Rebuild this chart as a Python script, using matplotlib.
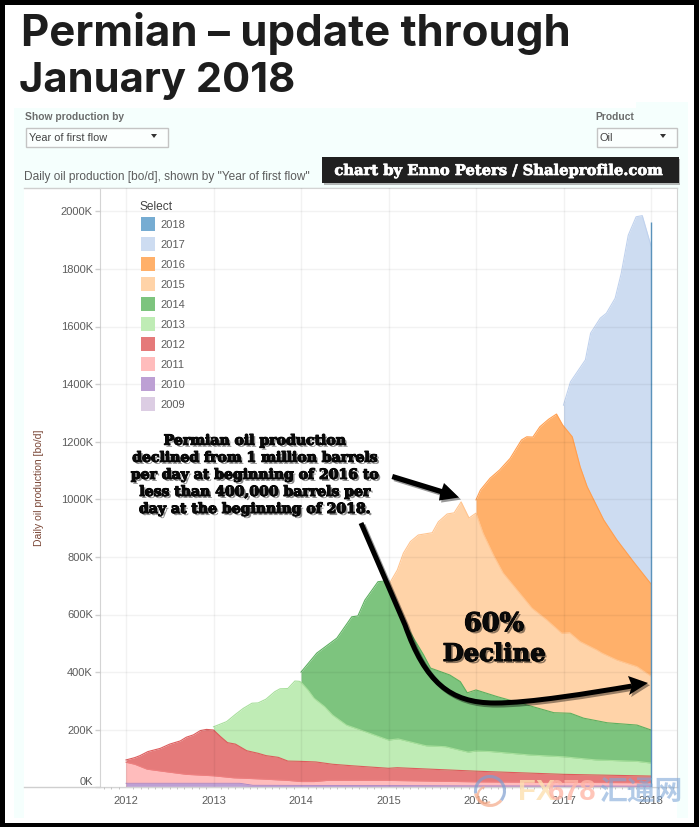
#Produccion de petroleo en el Permian por año de primer flujo
#Objetivo: Graficar las capas apiladas de cada cosecha de pozos sobre la pagina original

#Importamos las librerias necesarias 
import numpy as np
import matplotlib.pylab as plt
from matplotlib.path import Path
from matplotlib.patches import Rectangle, PathPatch, Polygon, Arc
import matplotlib.patheffects as pe

# Años de la leyenda y sus colores
vintages = ['2018', '2017', '2016', '2015', '2014', '2013', '2012', '2011', '2010', '2009']
coloresRelleno = ['#76acd2', '#cddcf1', '#ffb06a', '#ffd3a8', '#7dc47e', '#bfecb5', '#e57a7a', '#ffbcbc', '#bda0d4', '#dccde3']
coloresLinea = ['#5f9ac6', '#c0d2ee', '#ff9f50', '#ffc590', '#5db060', '#a8e09c', '#dd5c5c', '#ee8080', '#a585c8', '#cdb8d8']

# Techo acumulado de cada capa [miles de bo/d]
x2009 = [2012.0, 2013.3, 2013.5, 2018.0]
y2009 = [4, 4, 2, 1]

x2010 = [2012.0, 2013.3, 2013.45, 2015.0, 2016.0, 2018.0]
y2010 = [14, 14, 7, 6, 5, 4]

x2011 = [2012.0, 2012.1, 2012.24, 2012.46, 2012.69, 2013.0, 2013.23, 2013.54, 2013.85, 2014.0, 2014.15, 2014.3, 2015.0, 2016.0, 2017.0, 2018.0]
y2011 = [87, 80, 63, 54, 45, 40, 33, 29, 24, 20, 20, 24, 24, 19, 17, 16]

x2012 = [2012.0, 2012.1, 2012.16, 2012.25, 2012.39, 2012.5, 2012.62, 2012.69, 2012.77, 2012.85, 2012.92, 2013.0, 2013.08, 2013.16, 2013.25, 2013.38, 2013.51, 2013.6, 2013.74, 2013.85, 2014.0, 2014.17, 2014.36, 2014.57, 2015.0, 2015.1, 2016.0, 2017.0, 2018.0]
y2012 = [95, 103, 110, 124, 135, 150, 161, 174, 182, 197, 201, 199, 176, 155, 150, 127, 118, 110, 104, 91, 90, 88, 80, 75, 66, 68, 56, 45, 39]

x2013 = [2013.0, 2013.15, 2013.25, 2013.34, 2013.44, 2013.51, 2013.6, 2013.7, 2013.76, 2013.85, 2013.93, 2013.98, 2014.0, 2014.08, 2014.15, 2014.27, 2014.36, 2014.52, 2014.68, 2015.0, 2015.11, 2015.43, 2015.65, 2015.91, 2016.0, 2016.17, 2016.62, 2017.0, 2017.37, 2017.84, 2018.0]
y2013 = [210, 228, 253, 274, 292, 293, 306, 332, 342, 343, 369, 368, 365, 338, 309, 280, 251, 216, 199, 164, 168, 144, 141, 122, 126, 124, 112, 106, 95, 90, 84]

x2014 = [2014.0, 2014.18, 2014.41, 2014.58, 2014.65, 2014.73, 2014.88, 2014.95, 2015.0, 2015.1, 2015.2, 2015.3, 2015.4, 2015.48, 2015.7, 2015.82, 2015.9, 2016.0, 2016.24, 2016.58, 2016.89, 2017.08, 2017.23, 2017.5, 2017.84, 2018.0]
y2014 = [400, 466, 518, 592, 595, 650, 714, 716, 690, 615, 563, 511, 460, 414, 390, 367, 328, 338, 315, 286, 259, 257, 240, 224, 216, 199]

x2015 = [2015.0, 2015.1, 2015.17, 2015.25, 2015.34, 2015.5, 2015.57, 2015.67, 2015.75, 2015.83, 2015.92, 2016.0, 2016.08, 2016.2, 2016.31, 2016.47, 2016.64, 2016.81, 2016.98, 2017.07, 2017.19, 2017.38, 2017.44, 2017.61, 2017.84, 2018.0]
y2015 = [702, 754, 813, 853, 876, 884, 922, 949, 953, 991, 935, 952, 883, 806, 744, 685, 622, 581, 535, 537, 506, 477, 466, 442, 419, 386]

x2016 = [2016.0, 2016.05, 2016.16, 2016.27, 2016.39, 2016.52, 2016.58, 2016.65, 2016.73, 2016.83, 2016.92, 2016.99, 2017.1, 2017.19, 2017.27, 2017.46, 2017.61, 2017.8, 2018.0]
y2016 = [998, 1032, 1073, 1102, 1142, 1206, 1217, 1216, 1252, 1278, 1296, 1258, 1217, 1113, 1044, 928, 859, 783, 706]

x2017 = [2017.0, 2017.08, 2017.25, 2017.31, 2017.42, 2017.49, 2017.59, 2017.66, 2017.74, 2017.83, 2017.9, 2018.0]
y2017 = [1327, 1408, 1484, 1577, 1629, 1646, 1698, 1785, 1917, 1981, 1985, 1880]

# Ultimo mes: la cosecha 2018 es solo una linea vertical
x2018 = 2018.0
y2018 = 1964

# Ejes
yTicks = [0, 200, 400, 600, 800, 1000, 1200, 1400, 1600, 1800, 2000]
yLabels = ['0K', '200K', '400K', '600K', '800K', '1000K', '1200K', '1400K', '1600K', '1800K', '2000K']
xTicks = [2012, 2013, 2014, 2015, 2016, 2017, 2018]

colorTexto = '#5c5c5c'
sombra = [pe.withStroke(linewidth=0.8, foreground='k'), pe.withSimplePatchShadow(offset=(1.5, -1.5), shadow_rgbFace='k', alpha=0.45)]

plt.rcParams['font.family'] = ['Liberation Sans', 'DejaVu Sans']
plt.figure(figsize=(6.99, 8.27), dpi=100, facecolor='black')

# Pagina de fondo en coordenadas de pixel
fondo = plt.axes([0, 0, 1, 1], zorder=0)
plt.xlim(0, 699)
plt.ylim(827, 0)
plt.axis('off')
fondo.add_patch(Rectangle((5, 5), 689, 818, fc='white', ec='none'))
fondo.add_patch(Rectangle((14, 108), 674, 710, fc='#f5fffd', ec='none'))
fondo.add_patch(Rectangle((636, 102), 52, 8, fc='#f5fffd', ec='none'))
fondo.add_patch(Rectangle((24, 188), 653, 630, fc='white', ec='none'))
plt.plot([24, 677], [187.5, 187.5], color='#cfcfcf', lw=1)
plt.plot([24, 677], [787.3, 787.3], color='#cfcfcf', lw=1)

# Titulo
plt.text(21, 46, 'Permian – update through', fontsize=31.5, family='Inter', weight='bold', color='#1d1d1d')
plt.text(19, 92, 'January 2018', fontsize=30, family='Inter', weight='bold', color='#1d1d1d')

# Controles
plt.text(25, 120, 'Show production by', fontsize=7.4, color=colorTexto, weight='bold', alpha=0.9)
plt.text(595.5, 120, 'Product', fontsize=7.4, color=colorTexto, weight='bold', alpha=0.9)
fondo.add_patch(Rectangle((25.5, 127.5), 142, 19, fc='#fbfffe', ec='#c4c4c4', lw=1))
fondo.add_patch(Rectangle((596.5, 127.5), 80, 19, fc='#fbfffe', ec='#c4c4c4', lw=1))
plt.text(29, 141, 'Year of first flow', fontsize=7.9, color='#444444')
plt.text(600, 141, 'Oil', fontsize=7.9, color='#444444')
fondo.add_patch(Polygon([(151, 134), (157, 134), (154, 138)], fc='#333333', ec='none'))
fondo.add_patch(Polygon([(660, 134), (666, 134), (663, 138)], fc='#333333', ec='none'))
plt.text(24, 180, 'Daily oil production [bo/d], shown by "Year of first flow"', fontsize=8.55, color=colorTexto)

# Grafica principal
grafica = plt.axes([100 / 699, (827 - 787.3) / 827, 577 / 699, (787.3 - 188) / 827], zorder=1)
grafica.set_axisbelow(False)

# Graficamos de la cosecha mas nueva a la mas vieja, cada una tapa a la anterior
plt.fill_between(x2017, y2017, 0, color=coloresRelleno[1], lw=0)
plt.plot(x2017, y2017, color=coloresLinea[1], lw=0.8)
plt.fill_between(x2016, y2016, 0, color=coloresRelleno[2], lw=0)
plt.plot(x2016, y2016, color=coloresLinea[2], lw=0.8)
plt.fill_between(x2015, y2015, 0, color=coloresRelleno[3], lw=0)
plt.plot(x2015, y2015, color=coloresLinea[3], lw=0.8)
plt.fill_between(x2014, y2014, 0, color=coloresRelleno[4], lw=0)
plt.plot(x2014, y2014, color=coloresLinea[4], lw=0.8)
plt.fill_between(x2013, y2013, 0, color=coloresRelleno[5], lw=0)
plt.plot(x2013, y2013, color=coloresLinea[5], lw=0.8)
plt.fill_between(x2012, y2012, 0, color=coloresRelleno[6], lw=0)
plt.plot(x2012, y2012, color=coloresLinea[6], lw=0.8)
plt.fill_between(x2011, y2011, 0, color=coloresRelleno[7], lw=0)
plt.plot(x2011, y2011, color=coloresLinea[7], lw=0.8)
plt.fill_between(x2010, y2010, 0, color=coloresRelleno[8], lw=0)
plt.plot(x2010, y2010, color=coloresLinea[8], lw=0.6)
plt.fill_between(x2009, y2009, 0, color=coloresRelleno[9], lw=0)
plt.vlines(x2018, 0, y2018, color=coloresLinea[0], lw=1)

plt.xlim(2012 - 26 / 87.5, 2018 + 26 / 87.5)
plt.ylim(0, (787.3 - 188) / 0.288)
plt.xticks(xTicks, [str(v) for v in xTicks], fontsize=8, color=colorTexto)
plt.yticks(yTicks, yLabels, fontsize=8, color=colorTexto)
plt.tick_params(axis='x', length=0, pad=6.5)
plt.tick_params(axis='y', length=3.6, width=1, color='#cfcfcf', pad=1.5)
grafica.get_yticklabels()[0].set_verticalalignment('bottom')  # el 0K va mas arriba que su marca
plt.gca().set_xticks(np.arange(2011.75, 2018.3, 1 / 12), minor=True)
plt.tick_params(axis='x', which='minor', length=1.5, width=0.6, color='#bbbbbb')
plt.grid(color='k', alpha=0.05, lw=1)
for lado in grafica.spines.values():
    lado.set_color('#d4d4d4')
plt.ylabel('Daily oil production [bo/d]', fontsize=7.5, color='#7a4636', labelpad=12)

# Capa superior: leyenda, notas y flechas
encima = plt.axes([0, 0, 1, 1], zorder=2)
encima.patch.set_alpha(0)
plt.xlim(0, 699)
plt.ylim(827, 0)
plt.axis('off')

plt.text(139, 210.5, 'Select', fontsize=8.6, color='#444444')
for i in range(len(vintages)):
    encima.add_patch(Rectangle((141, 217 + 20 * i), 14, 14, fc=coloresRelleno[i], ec='none'))
    plt.text(160, 228 + 20 * i, vintages[i], fontsize=8, color=colorTexto)

# Recuadro del autor
encima.add_patch(Rectangle((324, 159), 356, 25.5, fc='#888888', ec='none', alpha=0.6))
encima.add_patch(Rectangle((322, 157), 357, 25.7, fc='#202020', ec='none'))
plt.text(499, 175, 'chart by Enno Peters / Shaleprofile.com', fontsize=10.6, family='DejaVu Serif', weight='bold', color='white', ha='center', path_effects=[pe.withStroke(linewidth=0.5, foreground='white')])
encima.add_patch(Rectangle((322, 175.5), 357, 7, fc='#202020', ec='none'))

# Nota principal
plt.text(254.5, 516, 'Permian oil production\ndeclined from 1 million barrels\nper day at beginning of 2016 to\nless than 400,000 barrels per\nday at the beginning of 2018.', fontsize=10.1, family='DejaVu Serif', weight='bold', color='#0a0a0a', ha='center', va='bottom', linespacing=1.28, path_effects=sombra)
plt.text(494, 631, '60%', fontsize=18.5, family='DejaVu Serif', weight='bold', color='#0a0a0a', ha='center', path_effects=sombra)
plt.text(494, 661, 'Decline', fontsize=17.5, family='DejaVu Serif', weight='bold', color='#0a0a0a', ha='center', path_effects=sombra)

# Flecha corta
encima.add_patch(Polygon([(393, 474), (442, 489), (444, 483), (459, 497.5), (439, 500.5), (440, 494), (391.5, 479)], fc='k', ec='none', path_effects=[pe.withSimplePatchShadow(offset=(1.5, -1.5), alpha=0.4)]))

# Flecha larga
curva = Path([(361, 523), (405, 625), (425, 682), (450, 703), (495, 703), (530, 703), (590, 693), (632, 686)],
             [Path.MOVETO, Path.LINETO, Path.CURVE4, Path.CURVE4, Path.CURVE4, Path.CURVE4, Path.CURVE4, Path.CURVE4])
encima.add_patch(PathPatch(curva, fc='none', ec='k', lw=3.6, capstyle='butt', path_effects=[pe.SimpleLineShadow(offset=(1.5, -1.5), alpha=0.4, shadow_color='k'), pe.Normal()]))
encima.add_patch(Polygon([(648, 683), (628, 676), (632, 686), (629, 695)], fc='k', ec='none', path_effects=[pe.withSimplePatchShadow(offset=(1.5, -1.5), alpha=0.4)]))

# Marca de agua
encima.add_patch(Arc((490, 791), 29, 29, theta1=170, theta2=40, color='#7f9fd0', lw=2.2, alpha=0.7))
encima.add_patch(Arc((490, 791), 29, 29, theta1=40, theta2=170, color='#f4a988', lw=2.2, alpha=0.7))
encima.add_patch(Arc((486, 795), 16, 16, theta1=60, theta2=260, color='#f4a988', lw=1.6, alpha=0.7))
plt.text(518, 800, 'FX', fontsize=21, weight='bold', color='#fde0b0', alpha=0.8)
plt.text(548, 800, '678', fontsize=21, weight='bold', color='#ffb8a8', alpha=0.8)
plt.text(599, 801, '汇通网', fontsize=20, family='Noto Sans CJK SC', weight='bold', color='#7fa8d8', alpha=0.6)

# Guardamos la figura
plt.savefig('out.png', dpi=100, facecolor='black')
